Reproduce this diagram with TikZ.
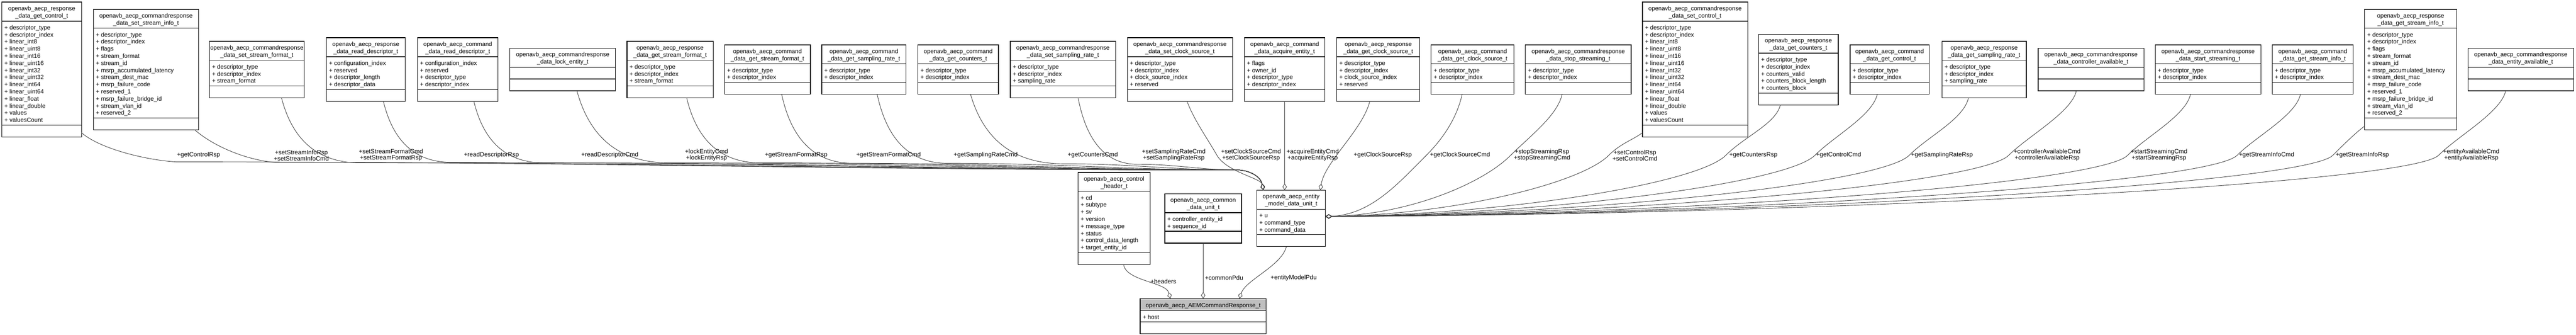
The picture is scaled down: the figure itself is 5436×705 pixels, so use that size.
\documentclass[tikz,border=0pt]{standalone}
\usepackage{fontspec}
\setmainfont{Liberation Sans}
\usepackage{tikz}
\usetikzlibrary{arrows.meta}
\usetikzlibrary{calc}
\definecolor{mgray}{rgb}{0.75, 0.75, 0.75}
\definecolor{mline}{rgb}{0.25, 0.25, 0.25}

\tikzset{
  classframe/.style={draw, line width=0.7pt, inner sep=0pt, outer sep=0pt},
  classtitle/.style={anchor=north, align=center, inner sep=0pt, font=\fontsize{6.3}{7.5}\selectfont},
  classattr/.style={anchor=north west, align=left, inner sep=0pt, font=\fontsize{6.3}{7.5}\selectfont},
  member/.style={draw=mline, line width=0.5pt, -{Diamond[open, length=7pt, width=4.5pt]}},
  role/.style={align=center, inner sep=0pt, font=\fontsize{6.5}{6.5}\selectfont}
}

% name, left, top, width, title height, attribute height, title, attributes
\newcommand{\classbox}[8]{%
  \node[classframe, anchor=north west, minimum width={#4*0.5pt}, minimum height={(#5+#6+25)*0.5pt}] (#1) at (#2,#3) {};
  \draw[line width=0.7pt] ($(#1.north west)+(0,#5)$) -- ++(#4,0);
  \draw[line width=0.7pt] ($(#1.north west)+(0,#5+#6)$) -- ++(#4,0);
  \node[classtitle] at ($(#1.north)+(0,7)$) {\strut #7};
  \node[classattr] at ($(#1.north west)+(5,#5+7)$) {\strut #8};
}
\newcommand{\attrdd}{+ descriptor\_type\\+ descriptor\_index}
\newcommand{\attrctrl}{\attrdd\\+ linear\_int8\\+ linear\_uint8\\+ linear\_int16\\+ linear\_uint16\\+ linear\_int32\\+ linear\_uint32\\+ linear\_int64\\+ linear\_uint64\\+ linear\_float\\+ linear\_double\\+ values\\+ valuesCount}
\newcommand{\attrsinfo}{\attrdd\\+ flags\\+ stream\_format\\+ stream\_id\\+ msrp\_accumulated\_latency\\+ stream\_dest\_mac\\+ msrp\_failure\_code\\+ reserved\_1\\+ msrp\_failure\_bridge\_id\\+ stream\_vlan\_id\\+ reserved\_2}

\begin{document}
\begin{tikzpicture}[x=0.5pt, y=-0.5pt]
      \useasboundingbox (0,0) rectangle (5436,705);

      % member structs
      \classbox{getctrlrsp}{4}{4.5}{168}{40}{219}{openavb\_aecp\_response\\\_data\_get\_control\_t}{\attrctrl}
      \classbox{setsinfo}{197}{19.5}{222}{40}{189}{openavb\_aecp\_commandresponse\\\_data\_set\_stream\_info\_t}{\attrsinfo}
      \classbox{setsfmt}{442}{87}{200}{40}{54}{openavb\_aecp\_commandresponse\\\_data\_set\_stream\_format\_t}{\attrdd\\+ stream\_format}
      \classbox{readdescrsp}{689}{79.5}{166}{40}{69}{openavb\_aecp\_response\\\_data\_read\_descriptor\_t}{+ configuration\_index\\+ reserved\\+ descriptor\_length\\+ descriptor\_data}
      \classbox{readdesccmd}{881}{79.5}{170}{40}{69}{openavb\_aecp\_command\\\_data\_read\_descriptor\_t}{+ configuration\_index\\+ reserved\\+ descriptor\_type\\+ descriptor\_index}
      \classbox{lockent}{1076}{101.5}{223}{40}{25}{openavb\_aecp\_commandresponse\\\_data\_lock\_entity\_t}{}
      \classbox{getsfmtrsp}{1323}{87}{182}{40}{54}{openavb\_aecp\_response\\\_data\_get\_stream\_format\_t}{\attrdd\\+ stream\_format}
      \classbox{getsfmtcmd}{1529}{94.5}{181}{40}{39}{openavb\_aecp\_command\\\_data\_get\_stream\_format\_t}{\attrdd}
      \classbox{getsratecmd}{1734}{94.5}{178}{40}{39}{openavb\_aecp\_command\\\_data\_get\_sampling\_rate\_t}{\attrdd}
      \classbox{getcntcmd}{1937}{94.5}{170}{40}{39}{openavb\_aecp\_command\\\_data\_get\_counters\_t}{\attrdd}
      \classbox{setsrate}{2132}{87}{222}{40}{54}{openavb\_aecp\_commandresponse\\\_data\_set\_sampling\_rate\_t}{\attrdd\\+ sampling\_rate}
      \classbox{setclk}{2379}{79.5}{222}{40}{69}{openavb\_aecp\_commandresponse\\\_data\_set\_clock\_source\_t}{\attrdd\\+ clock\_source\_index\\+ reserved}
      \classbox{acquire}{2626}{79.5}{170}{40}{69}{openavb\_aecp\_command\\\_data\_acquire\_entity\_t}{+ flags\\+ owner\_id\\\attrdd}
      \classbox{getclkrsp}{2821}{79.5}{175}{40}{69}{openavb\_aecp\_response\\\_data\_get\_clock\_source\_t}{\attrdd\\+ clock\_source\_index\\+ reserved}
      \classbox{getclkcmd}{3020}{94.5}{175}{40}{39}{openavb\_aecp\_command\\\_data\_get\_clock\_source\_t}{\attrdd}
      \classbox{stopstr}{3219}{94.5}{223}{40}{39}{openavb\_aecp\_commandresponse\\\_data\_stop\_streaming\_t}{\attrdd}
      \classbox{setctrl}{3466}{4.5}{222}{40}{219}{openavb\_aecp\_commandresponse\\\_data\_set\_control\_t}{\attrctrl}
      \classbox{getcntrsp}{3711}{72}{168}{40}{84}{openavb\_aecp\_response\\\_data\_get\_counters\_t}{\attrdd\\+ counters\_valid\\+ counters\_block\_length\\+ counters\_block}
      \classbox{getctrlcmd}{3904}{94.5}{167}{40}{39}{openavb\_aecp\_command\\\_data\_get\_control\_t}{\attrdd}
      \classbox{getsratersp}{4098}{87}{178}{40}{54}{openavb\_aecp\_response\\\_data\_get\_sampling\_rate\_t}{\attrdd\\+ sampling\_rate}
      \classbox{ctrlavail}{4301}{101.5}{223}{40}{25}{openavb\_aecp\_commandresponse\\\_data\_controller\_available\_t}{}
      \classbox{startstr}{4548}{94.5}{223}{40}{39}{openavb\_aecp\_commandresponse\\\_data\_start\_streaming\_t}{\attrdd}
      \classbox{getsinfocmd}{4795}{94.5}{171}{40}{39}{openavb\_aecp\_command\\\_data\_get\_stream\_info\_t}{\attrdd}
      \classbox{getsinforsp}{4990}{19.5}{194}{40}{189}{openavb\_aecp\_response\\\_data\_get\_stream\_info\_t}{\attrsinfo}
      \classbox{entavail}{5208}{101.5}{223}{40}{25}{openavb\_aecp\_commandresponse\\\_data\_entity\_available\_t}{}

      % lower row
      \classbox{ctrlhdr}{2275}{363}{152}{40}{129}{openavb\_aecp\_control\\\_header\_t}{+ cd\\+ subtype\\+ sv\\+ version\\+ message\_type\\+ status\\+ control\_data\_length\\+ target\_entity\_id}
      \classbox{common}{2458}{408}{162}{40}{39}{openavb\_aecp\_common\\\_data\_unit\_t}{+ controller\_entity\_id\\+ sequence\_id}
      \classbox{union}{2652}{400.5}{145}{40}{54}{openavb\_aecp\_entity\\\_model\_data\_unit\_t}{+ u\\+ command\_type\\+ command\_data}
      \fill[mgray] (2406,629) rectangle ++(266,25);
      \classbox{aemrsp}{2406}{629}{266}{25}{24}{openavb\_aecp\_AEMCommandResponse\_t}{+ host}

      \coordinate (uTL) at ($(union.north west)+(14,0)$);
      \coordinate (uTR) at ($(union.north east)+(-11,0)$);
      \coordinate (uE) at ($(union.east)+(0,-4)$);
      \coordinate (bundle) at (2615,358);
      \coordinate (mL) at ($(aemrsp.north)+(-69,0)$);
      \coordinate (mR) at ($(aemrsp.north)+(76,0)$);

      % left side
      \draw [member] ($(getctrlrsp.south east)+(0,-9)$) .. controls +(40,35) and +(-60,-3) .. (373,341) .. controls +(897,0) and +(-897,0) .. (bundle) .. controls +(30,3) and +(-5,-25) .. (uTL);
      \draw [member] ($(setsinfo.south east)+(-8,0)$) .. controls +(40,35) and +(-60,-5) .. (580,342) .. controls +(814,0) and +(-814,0) .. (bundle) .. controls +(30,3) and +(-5,-25) .. (uTL);
      \draw [member] ($(setsfmt.south)+(52,0)$) .. controls +(25,96) and +(-83,0) .. (760,343) .. controls +(742,0) and +(-742,0) .. (bundle) .. controls +(30,3) and +(-5,-25) .. (uTL);
      \draw [member] ($(readdescrsp.south)+(37,0)$) .. controls +(22,90) and +(-72,0) .. (953,342) .. controls +(665,0) and +(-665,0) .. (bundle) .. controls +(30,3) and +(-5,-25) .. (uTL);
      \draw [member] ($(readdesccmd.south)+(34,0)$) .. controls +(22,91) and +(-74,0) .. (1148,343) .. controls +(587,0) and +(-587,0) .. (bundle) .. controls +(30,3) and +(-5,-25) .. (uTL);
      \draw [member] ($(lockent.south)+(30,0)$) .. controls +(29,106) and +(-97,0) .. (1412,343) .. controls +(481,0) and +(-481,0) .. (bundle) .. controls +(30,3) and +(-5,-25) .. (uTL);
      \draw [member] ($(getsfmtrsp.south)+(35,0)$) .. controls +(23,96) and +(-78,0) .. (1605,343) .. controls +(404,0) and +(-404,0) .. (bundle) .. controls +(30,3) and +(-5,-25) .. (uTL);
      \draw [member] ($(getsfmtcmd.south)+(30,0)$) .. controls +(22,102) and +(-75,0) .. (1800,344) .. controls +(326,0) and +(-326,0) .. (bundle) .. controls +(30,3) and +(-5,-25) .. (uTL);
      \draw [member] ($(getsratecmd.south)+(28,0)$) .. controls +(22,102) and +(-75,0) .. (2000,344) .. controls +(246,0) and +(-246,0) .. (bundle) .. controls +(30,3) and +(-5,-25) .. (uTL);
      \draw [member] ($(getcntcmd.south)+(26,0)$) .. controls +(30,103) and +(-98,0) .. (2245,345) .. controls +(148,0) and +(-148,0) .. (bundle) .. controls +(30,3) and +(-5,-25) .. (uTL);
      \draw [member] ($(setsrate.south)+(32,0)$) .. controls +(19,98) and +(-62,0) .. (2400,346) .. controls +(86,0) and +(-86,0) .. (bundle) .. controls +(30,3) and +(-5,-25) .. (uTL);
      \draw [member] ($(setclk.south)+(15,0)$) .. controls +(15,40) and +(-20,-35) .. (2568,327) .. controls +(20,35) and +(-5,-25) .. (uTL);

      % straight down
      \draw [member] (acquire.south) -- (union.north -| acquire.south);
      \draw [member] ($(getclkrsp.south)+(-18,0)$) .. controls +(-15,60) and +(10,-60) .. (uTR);

      % right side
      \draw [member] ($(getclkcmd.south)+(-22,0)$) .. controls +(-10,45) and +(40,-40) .. (3010,327) .. controls +(-60,60) and +(96,-4) .. (uE);
      \draw [member] ($(stopstr.south)+(-34,0)$) .. controls +(-10,45) and +(40,-40) .. (3188,327) .. controls +(-60,60) and +(176,-4) .. (uE);
      \draw [member] ($(setctrl.south west)+(0,-9)$) .. controls +(-20,15) and +(25,-25) .. (3395,327) .. controls +(-60,60) and +(269,-4) .. (uE);
      \draw [member] ($(getcntrsp.south)+(-38,0)$) .. controls +(-10,40) and +(40,-40) .. (3642,327) .. controls +(-60,60) and +(380,-4) .. (uE);
      \draw [member] ($(getctrlcmd.south)+(-26,0)$) .. controls +(-10,45) and +(40,-40) .. (3830,327) .. controls +(-60,60) and +(465,-4) .. (uE);
      \draw [member] ($(getsratersp.south)+(-33,0)$) .. controls +(-10,45) and +(40,-40) .. (4029,327) .. controls +(-60,60) and +(554,-4) .. (uE);
      \draw [member] ($(ctrlavail.south)+(-31,0)$) .. controls +(-10,45) and +(40,-40) .. (4239,327) .. controls +(-60,60) and +(649,-4) .. (uE);
      \draw [member] ($(startstr.south)+(-37,0)$) .. controls +(-10,45) and +(40,-40) .. (4490,327) .. controls +(-60,60) and +(762,-4) .. (uE);
      \draw [member] ($(getsinfocmd.south)+(-26,0)$) .. controls +(-10,45) and +(40,-40) .. (4721,327) .. controls +(-60,60) and +(866,-4) .. (uE);
      \draw [member] ($(getsinforsp.south west)+(0,-8)$) .. controls +(-20,15) and +(25,-25) .. (4923,327) .. controls +(-60,60) and +(957,-4) .. (uE);
      \draw [member] ($(entavail.south)+(-32,0)$) .. controls +(-10,45) and +(40,-40) .. (5146,327) .. controls +(-60,60) and +(1057,-4) .. (uE);

      % into the response
      \draw [member] ($(ctrlhdr.south)+(20,0)$) .. controls +(5,35) and +(-10,-35) .. (mL);
      \draw [member] (common.south) -- (common.south |- aemrsp.north);
      \draw [member] ($(union.south)+(-10,0)$) .. controls +(-10,40) and +(15,-40) .. (mR);

      \node [role] (rgetctrlrsp) at (419,327) {+getControlRsp};
      \node [role] (rsetsinfo) at (636,327) {+setStreamInfoRsp\\+setStreamInfoCmd};
      \node [role] (rsetsfmt) at (825,327) {+setStreamFormatCmd\\+setStreamFormatRsp};
      \node [role] (rreaddescrsp) at (1037,327) {+readDescriptorRsp};
      \node [role] (rreaddesccmd) at (1287,327) {+readDescriptorCmd};
      \node [role] (rlockent) at (1491,327) {+lockEntityCmd\\+lockEntityRsp};
      \node [role] (rgetsfmtrsp) at (1680,327) {+getStreamFormatRsp};
      \node [role] (rgetsfmtcmd) at (1875,327) {+getStreamFormatCmd};
      \node [role] (rgetsratecmd) at (2080,327) {+getSamplingRateCmd};
      \node [role] (rgetcntcmd) at (2306,327) {+getCountersCmd};
      \node [role] (rsetsrate) at (2477,327) {+setSamplingRateCmd\\+setSamplingRateRsp};
      \node [role] (rsetclk) at (2640,327) {+setClockSourceCmd\\+setClockSourceRsp};
      \node [role] (racquire) at (2770,327) {+acquireEntityCmd\\+acquireEntityRsp};
      \node [role] (rgetclkrsp) at (2918,327) {+getClockSourceRsp};
      \node [role] (rgetclkcmd) at (3081,327) {+getClockSourceCmd};
      \node [role] (rstopstr) at (3254,327) {+stopStreamingRsp\\+stopStreamingCmd};
      \node [role] (rsetctrl) at (3450,327) {+setControlRsp\\+setControlCmd};
      \node [role] (rgetcntrsp) at (3700,327) {+getCountersRsp};
      \node [role] (rgetctrlcmd) at (3880,327) {+getControlCmd};
      \node [role] (rgetsratersp) at (4098,327) {+getSamplingRateRsp};
      \node [role] (rctrlavail) at (4320,327) {+controllerAvailableCmd\\+controllerAvailableRsp};
      \node [role] (rstartstr) at (4556,327) {+startStreamingCmd\\+startStreamingRsp};
      \node [role] (rgetsinfocmd) at (4783,327) {+getStreamInfoCmd};
      \node [role] (rgetsinforsp) at (4985,327) {+getStreamInfoRsp};
      \node [role] (rentavail) at (5215,327) {+entityAvailableCmd\\+entityAvailableRsp};
      \node [role] (rheaders) at (2455,593) {+headers};
      \node [role] (rcommon) at (2583,585) {+commonPdu};
      \node [role] (runion) at (2730,585) {+entityModelPdu};
\end{tikzpicture}
\end{document}
